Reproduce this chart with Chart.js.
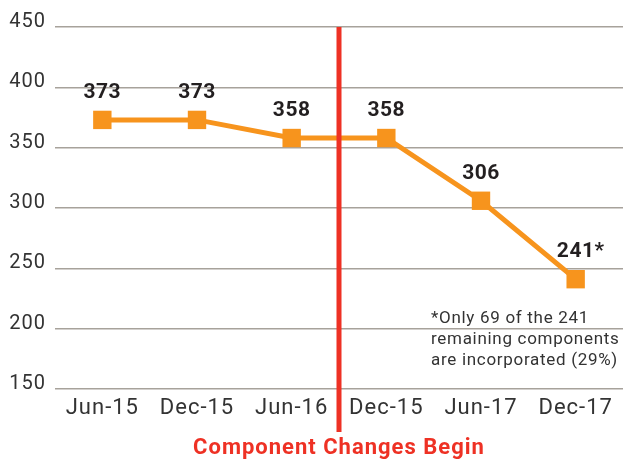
<!DOCTYPE html>
<html>
<head>
<meta charset="utf-8">
<script src="https://cdn.jsdelivr.net/npm/chart.js@4/dist/chart.umd.min.js"></script>
<style>
  body { margin: 0; background: #fff; }
</style>
</head>
<body>
<canvas id="componentsChart" width="623" height="461"></canvas>
<script>
// chart data
const periods = ['Jun-15', 'Dec-15', 'Jun-16', 'Dec-15', 'Jun-17', 'Dec-17'];
const components = [373, 373, 358, 358, 306, 241];
const labelSuffix = ['', '', '', '', '', '*'];
const yMin = 150;
const yMax = 450;
const yStep = 50;
const changeIndex = 2.5;
const changeLabel = 'Component Changes Begin';
const footnoteLines = ['*Only 69 of the 241', 'remaining components', 'are incorporated (29%)'];

const lineColor = '#f7941d';
const redColor = '#ee3124';
const textColor = '#333333';
const fontName = 'Roboto';

// wider letter spacing for axis text (reference font is a DIN-like face)
const spacingPlugin = {
    id: 'spacing',
    beforeDraw(chart) {
        chart.ctx.letterSpacing = '1px';
    }
};

// value labels above the points, divider line and footnote
const extrasPlugin = {
    id: 'extras',
    afterDatasetsDraw(chart) {
        const ctx = chart.ctx;
        const x = chart.scales.x;
        const y = chart.scales.y;
        const meta = chart.getDatasetMeta(0);

        ctx.save();
        ctx.letterSpacing = '0.5px';
        ctx.font = 'bold 21px ' + fontName;
        ctx.fillStyle = '#231f20';
        ctx.textBaseline = 'middle';
        meta.data.forEach(function (pt, i) {
            const txt = String(components[i]);
            const w = ctx.measureText(txt).width;
            ctx.textAlign = 'left';
            ctx.fillText(txt + labelSuffix[i], pt.x - w / 2, pt.y - 27);
        });

        // red divider
        const dx = x.getPixelForValue(changeIndex);
        ctx.strokeStyle = redColor;
        ctx.lineWidth = 5;
        ctx.beginPath();
        ctx.moveTo(dx, chart.chartArea.top);
        ctx.lineTo(dx, chart.chartArea.bottom + 43);
        ctx.stroke();

        // footnote
        ctx.letterSpacing = '0.7px';
        ctx.font = '17px ' + fontName;
        ctx.fillStyle = textColor;
        ctx.textAlign = 'left';
        const fx = x.getPixelForValue(4) - 50;
        const fy = y.getPixelForValue(208);
        footnoteLines.forEach(function (line, i) {
            ctx.fillText(line, fx, fy + i * 21);
        });
        ctx.restore();
    }
};

new Chart(document.getElementById('componentsChart'), {
    type: 'line',
    data: {
        labels: periods,
        datasets: [{
            data: components,
            borderColor: lineColor,
            backgroundColor: lineColor,
            borderWidth: 5,
            pointStyle: 'rect',
            pointRadius: 13,
            pointHoverRadius: 13,
            pointBorderWidth: 0,
            tension: 0
        }]
    },
    options: {
        responsive: false,
        animation: false,
        layout: {
            autoPadding: false,
            padding: { top: 27, right: 0, left: 0, bottom: 0 }
        },
        plugins: {
            legend: { display: false },
            tooltip: { enabled: false }
        },
        scales: {
            x: {
                offset: true,
                grid: { display: false, drawTicks: false },
                border: { display: false },
                ticks: {
                    color: textColor,
                    font: { family: fontName, size: 22 },
                    padding: 6,
                    maxRotation: 0
                },
                title: {
                    display: true,
                    text: changeLabel,
                    color: redColor,
                    font: { family: fontName, size: 22, weight: 'bold', lineHeight: 1 },
                    padding: { top: 0, bottom: 2 }
                },
                afterFit(scale) {
                    scale.height = 72;
                }
            },
            y: {
                min: yMin,
                max: yMax,
                ticks: {
                    stepSize: yStep,
                    color: textColor,
                    font: { family: fontName, size: 20 },
                    padding: 9,
                    labelOffset: -5
                },
                grid: {
                    color: '#a7a29b',
                    lineWidth: 1.5,
                    drawTicks: false
                },
                border: { display: false },
                afterFit(scale) {
                    scale.width = 55;
                }
            }
        }
    },
    plugins: [spacingPlugin, extrasPlugin]
});
</script>
</body>
</html>
